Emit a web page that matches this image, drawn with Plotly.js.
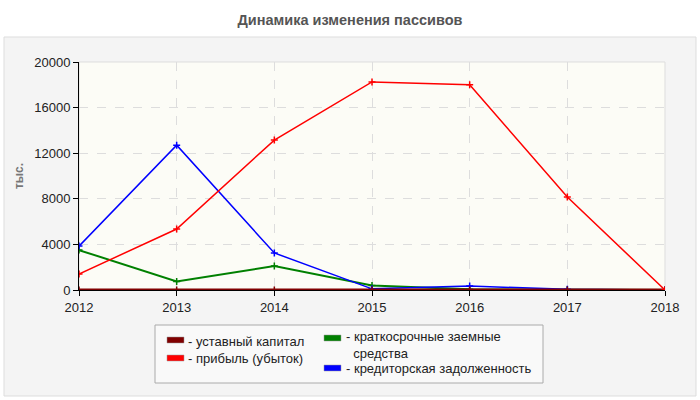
<!DOCTYPE html>
<html>
<head>
<meta charset="utf-8">
<script src="https://cdn.plot.ly/plotly-3.0.1.min.js"></script>
<style>
  html, body { margin: 0; padding: 0; background: #fff; }
  #chart { width: 700px; height: 400px; }
</style>
</head>
<body>
<div id="chart"></div>
<script>
// values, thousands
const years = ['2012', '2013', '2014', '2015', '2016', '2017', '2018'];
const ustavnyKapital = [10, 10, 10, 10, 10, 10, 10];
const pribyl = [1400, 5350, 13150, 18250, 18000, 8150, 0];
const kratkosrochnye = [3500, 750, 2100, 400, 60, 20, 0];
const kreditorskaya = [3850, 12700, 3250, 100, 350, 60, 0];

const seriesNames = [
  'уставный капитал',
  'прибыль (убыток)',
  'краткосрочные заемные средства',
  'кредиторская задолженность',
];
const seriesColors = ['#800000', '#ff0000', '#008000', '#0000ff'];
const seriesValues = [ustavnyKapital, pribyl, kratkosrochnye, kreditorskaya];
const seriesWidths = [3, 1.5, 2, 1.5];

const M = { l: 79, r: 35, t: 62, b: 110 };
const W = 700, H = 400;
const plotW = W - M.l - M.r, plotH = H - M.t - M.b;
// pixel -> paper coordinates (for the frame and the hand-built legend)
const px = x => (x - M.l) / plotW;
const py = y => (H - M.b - y) / plotH;

const traces = [2, 3, 0, 1].map(i => ({
  x: years, y: seriesValues[i],
  type: 'scatter', mode: 'lines+markers',
  name: seriesNames[i],
  line: { color: seriesColors[i], width: seriesWidths[i] },
  marker: { color: seriesColors[i], size: 5, symbol: 'cross-thin', line: { color: seriesColors[i], width: 1.5 } },
  hovertemplate: '%{y}<extra></extra>',
}));

// legend: two columns like the reference
const legendSlots = [
  { sx: 167, sy: 340, tx: 186, ty: 341, text: '- ' + seriesNames[0] },
  { sx: 167, sy: 358, tx: 186, ty: 358, text: '- ' + seriesNames[1] },
  { sx: 324, sy: 338, tx: 344, ty: 345, text: '- краткосрочные заемные<br>  средства' },
  { sx: 324, sy: 368, tx: 344, ty: 368, text: '- ' + seriesNames[3] },
];

const shapes = [
  { // grey panel
    type: 'rect', xref: 'paper', yref: 'paper', layer: 'below',
    x0: px(4), x1: px(696), y0: py(396), y1: py(37),
    fillcolor: '#f4f4f4', line: { color: '#dddddd', width: 1 },
  },
  { // plot area
    type: 'rect', xref: 'x domain', yref: 'y domain', layer: 'below',
    x0: 0, x1: 1, y0: 0, y1: 1,
    fillcolor: '#fcfcf6', line: { color: '#dddddd', width: 1 },
  },
  { // legend box
    type: 'rect', xref: 'paper', yref: 'paper',
    x0: px(155), x1: px(543), y0: py(383), y1: py(325),
    fillcolor: '#f9f9f9', line: { color: '#aaaaaa', width: 1 },
  },
];
const annotations = [];
legendSlots.forEach((s, i) => {
  shapes.push({
    type: 'rect', xref: 'paper', yref: 'paper',
    x0: px(s.sx), x1: px(s.sx + 17), y0: py(s.sy + 3), y1: py(s.sy - 3),
    fillcolor: seriesColors[i], line: { color: '#999', width: 0.5 },
  });
  annotations.push({
    xref: 'paper', yref: 'paper', x: px(s.tx), y: py(s.ty),
    xanchor: 'left', yanchor: 'middle', align: 'left',
    text: s.text, showarrow: false,
    font: { size: 13, color: '#222' },
  });
});

const layout = {
  width: W, height: H,
  margin: M,
  showlegend: false,
  paper_bgcolor: '#ffffff',
  plot_bgcolor: 'rgba(0,0,0,0)',
  font: { family: 'Liberation Sans, Arial, sans-serif', size: 13, color: '#222' },
  title: {
    text: 'Динамика изменения пассивов',
    x: 0.5, xref: 'container', xanchor: 'center', y: 0.95, yanchor: 'middle',
    font: { size: 14.5, color: '#555', weight: 'bold' },
  },
  xaxis: {
    type: 'category',
    range: [0, 6],
    showline: true, linecolor: '#000', linewidth: 1,
    ticks: 'outside', ticklen: 5, tickcolor: '#000',
    showgrid: true, gridcolor: '#dddddd', griddash: 'dash',
    zeroline: false,
    tickfont: { size: 13, color: '#222' },
  },
  yaxis: {
    range: [0, 20000],
    tickvals: [0, 4000, 8000, 12000, 16000, 20000],
    tickformat: 'd',
    showline: true, linecolor: '#000', linewidth: 1,
    ticks: 'outside', ticklen: 5, tickcolor: '#000',
    showgrid: true, gridcolor: '#dddddd', griddash: 'dash',
    zeroline: false,
    tickfont: { size: 13, color: '#222' },
    title: { text: 'тыс.', standoff: 8, font: { size: 12, color: '#777', weight: 'bold' } },
  },
  shapes: shapes,
  annotations: annotations,
};

Plotly.newPlot('chart', traces, layout, { displayModeBar: false, staticPlot: true });
</script>
</body>
</html>
